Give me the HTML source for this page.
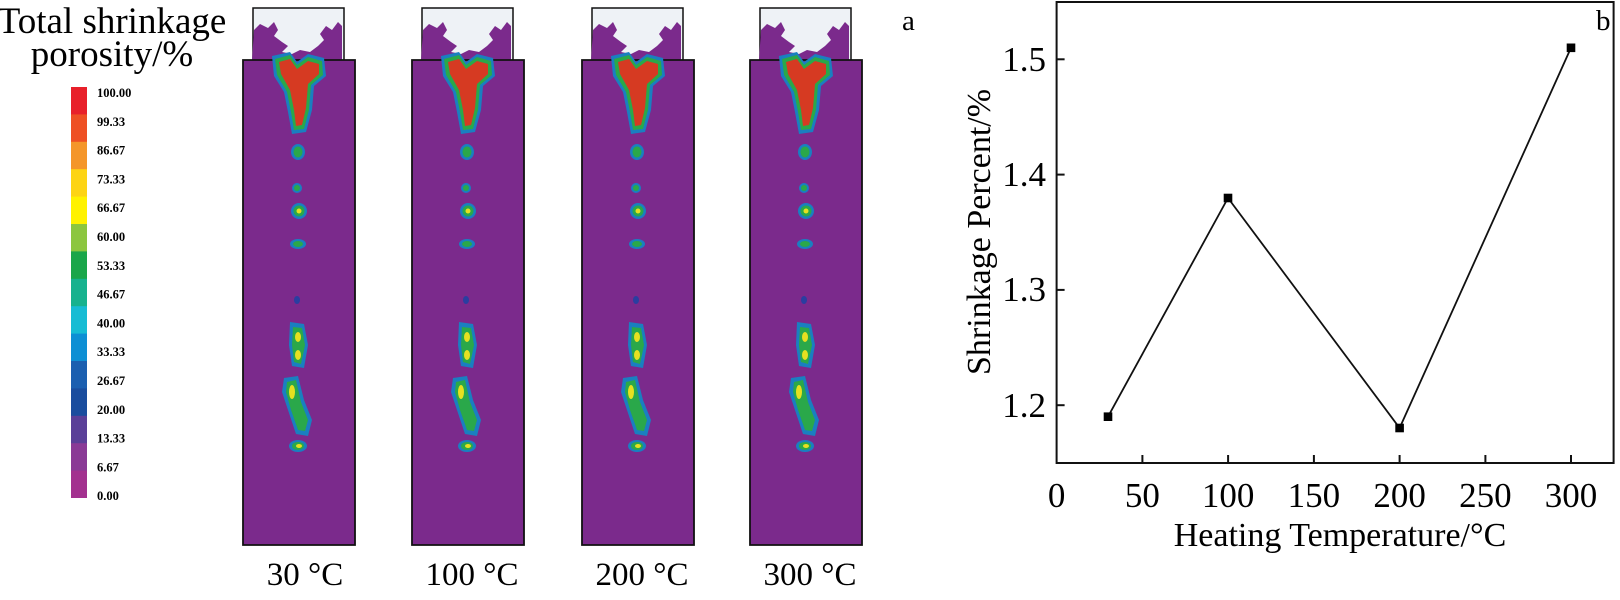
<!DOCTYPE html>
<html><head><meta charset="utf-8"><style>
html,body{margin:0;padding:0;background:#fff;}
svg{display:block}
text{font-family:"Liberation Serif",serif;}
</style></head><body>
<svg width="1620" height="600" viewBox="0 0 1620 600" xmlns="http://www.w3.org/2000/svg">
<defs>
<symbol id="cast" viewBox="0 0 114 545" width="114" height="545" overflow="visible">
  <rect x="11" y="8" width="91" height="54" fill="#eef2f6" stroke="#111" stroke-width="1.5"/>
  <path d="M12,30 l6,-6 l8,4 l6,-6 l4,8 l-4,6 l8,6 l6,4 l-6,6 l10,2 l8,-4 l10,2 l8,-6 l6,-6 l-4,-6 l6,-8 l6,4 l6,-8 l4,4 l0,34 l-90,0 z" fill="#7b2a8c"/>
  <path d="M1,60 L113,60 L113,545 L1,545 Z" fill="#7b2a8c" stroke="#111" stroke-width="1.8"/>
  <path d="M30,56 L48,52 L55,62 L66,54 L82,58 L84,76 L72,86 L70,110 L64,132 L50,134 L46,112 L42,92 L32,76 Z" fill="#1a7fc0"/>
  <path d="M33,59 L48,55 L55,65 L66,57 L80,61 L81,75 L69,85 L67,110 L62,129 L52,130 L49,112 L45,92 L35,75 Z" fill="#2aa84a"/>
  <path d="M37,62 L48,59 L55,69 L66,61 L77,64 L77,74 L66,84 L64,108 L60,125 L54,126 L52,110 L48,90 L39,74 Z" fill="#d63a22"/>
  <g fill="#1a7fc0">
   <ellipse cx="56" cy="152" rx="7" ry="8"/><ellipse cx="55" cy="188" rx="5" ry="5"/>
   <ellipse cx="57" cy="211" rx="8" ry="8"/><ellipse cx="56" cy="244" rx="8" ry="5"/>
   <ellipse cx="55" cy="300" rx="3" ry="4" fill="#2a3ea0"/>
   <path d="M48,322 L62,324 L66,345 L62,368 L50,366 L47,345 Z"/>
   <path d="M42,378 L56,376 L62,400 L70,420 L66,436 L54,434 L46,410 L40,392 Z"/>
   <ellipse cx="56" cy="446" rx="9" ry="6"/>
  </g>
  <g fill="#2aa84a">
   <ellipse cx="56" cy="152" rx="4.5" ry="5.5"/><ellipse cx="55" cy="188" rx="3" ry="3"/>
   <ellipse cx="57" cy="211" rx="5.5" ry="5.5"/><ellipse cx="56" cy="244" rx="5" ry="3"/>
   <path d="M51,327 L60,328 L63,345 L59,364 L52,362 L50,345 Z"/>
   <path d="M45,382 L54,380 L59,402 L66,420 L63,431 L56,430 L49,410 L44,392 Z"/>
   <ellipse cx="56" cy="446" rx="6" ry="4"/>
  </g>
  <g fill="#e6e020">
   <ellipse cx="57" cy="211" rx="2.5" ry="2.5"/>
   <ellipse cx="56" cy="337" rx="3" ry="5"/><ellipse cx="56" cy="355" rx="3" ry="5"/>
   <ellipse cx="50" cy="392" rx="3" ry="7"/><ellipse cx="57" cy="446" rx="3" ry="2"/>
  </g>
</symbol>
</defs>

<text x="112" y="33" font-size="37" text-anchor="middle">Total shrinkage</text>
<text x="112" y="66" font-size="37" text-anchor="middle">porosity/%</text>

<g>
<rect x="71" y="87" width="16" height="28" fill="#e8202a"/>
<rect x="71" y="114.4" width="16" height="28" fill="#ee5024"/>
<rect x="71" y="141.8" width="16" height="28" fill="#f4962a"/>
<rect x="71" y="169.2" width="16" height="28" fill="#fdd414"/>
<rect x="71" y="196.6" width="16" height="28" fill="#fff200"/>
<rect x="71" y="224" width="16" height="28" fill="#8cc63f"/>
<rect x="71" y="251.4" width="16" height="28" fill="#1aa64a"/>
<rect x="71" y="278.8" width="16" height="28" fill="#16b28e"/>
<rect x="71" y="306.2" width="16" height="28" fill="#16bcd4"/>
<rect x="71" y="333.6" width="16" height="28" fill="#0d8fd4"/>
<rect x="71" y="361" width="16" height="28" fill="#1b5fb0"/>
<rect x="71" y="388.4" width="16" height="28" fill="#1a4d9e"/>
<rect x="71" y="415.8" width="16" height="28" fill="#5a3f98"/>
<rect x="71" y="443.2" width="16" height="28" fill="#8a3a96"/>
<rect x="71" y="470.6" width="16" height="27.4" fill="#a3318f"/>
</g>
<g font-size="12.5" font-weight="bold">
<text x="97" y="97">100.00</text><text x="97" y="125.8">99.33</text><text x="97" y="154.6">86.67</text>
<text x="97" y="183.4">73.33</text><text x="97" y="212.2">66.67</text><text x="97" y="241">60.00</text>
<text x="97" y="269.8">53.33</text><text x="97" y="298.6">46.67</text><text x="97" y="327.4">40.00</text>
<text x="97" y="356.2">33.33</text><text x="97" y="385">26.67</text><text x="97" y="413.8">20.00</text>
<text x="97" y="442.6">13.33</text><text x="97" y="471.4">6.67</text><text x="97" y="500.2">0.00</text>
</g>

<use href="#cast" x="242" y="0"/>
<use href="#cast" x="411" y="0"/>
<use href="#cast" x="581" y="0"/>
<use href="#cast" x="749" y="0"/>

<g font-size="33">
<text x="305" y="585" text-anchor="middle">30 °C</text>
<text x="472" y="585" text-anchor="middle">100 °C</text>
<text x="642" y="585" text-anchor="middle">200 °C</text>
<text x="810" y="585" text-anchor="middle">300 °C</text>
<text x="902" y="30" font-size="29">a</text>
</g>

<rect x="1056.6" y="2" width="557" height="461" fill="none" stroke="#111" stroke-width="2"/>
<g stroke="#111" stroke-width="2">
<line x1="1142.4" y1="463" x2="1142.4" y2="455"/><line x1="1228.1" y1="463" x2="1228.1" y2="455"/>
<line x1="1313.9" y1="463" x2="1313.9" y2="455"/><line x1="1399.6" y1="463" x2="1399.6" y2="455"/>
<line x1="1485.4" y1="463" x2="1485.4" y2="455"/><line x1="1571" y1="463" x2="1571" y2="455"/>
<line x1="1056.6" y1="59.3" x2="1064.6" y2="59.3"/><line x1="1056.6" y1="174.6" x2="1064.6" y2="174.6"/>
<line x1="1056.6" y1="289.9" x2="1064.6" y2="289.9"/><line x1="1056.6" y1="405.2" x2="1064.6" y2="405.2"/>
</g>
<g font-size="35" text-anchor="middle">
<text x="1056.6" y="507">0</text><text x="1142.4" y="507">50</text><text x="1228.1" y="507">100</text>
<text x="1313.9" y="507">150</text><text x="1399.6" y="507">200</text><text x="1485.4" y="507">250</text>
<text x="1571" y="507">300</text>
</g>
<g font-size="35" text-anchor="end">
<text x="1046" y="71">1.5</text><text x="1046" y="186">1.4</text>
<text x="1046" y="301">1.3</text><text x="1046" y="417">1.2</text>
</g>
<text x="1340" y="546" font-size="34" text-anchor="middle">Heating Temperature/°C</text>
<text transform="translate(990,232) rotate(-90)" font-size="34" text-anchor="middle">Shrinkage Percent/%</text>
<text x="1596" y="30" font-size="29">b</text>
<polyline points="1108,416.7 1228,198 1399.6,428 1571,47.8" fill="none" stroke="#111" stroke-width="1.8"/>
<g fill="#000">
<rect x="1103.7" y="412.4" width="8.6" height="8.6"/>
<rect x="1223.7" y="193.7" width="8.6" height="8.6"/>
<rect x="1395.3" y="423.7" width="8.6" height="8.6"/>
<rect x="1566.7" y="43.5" width="8.6" height="8.6"/>
</g>
</svg>
</body></html>
